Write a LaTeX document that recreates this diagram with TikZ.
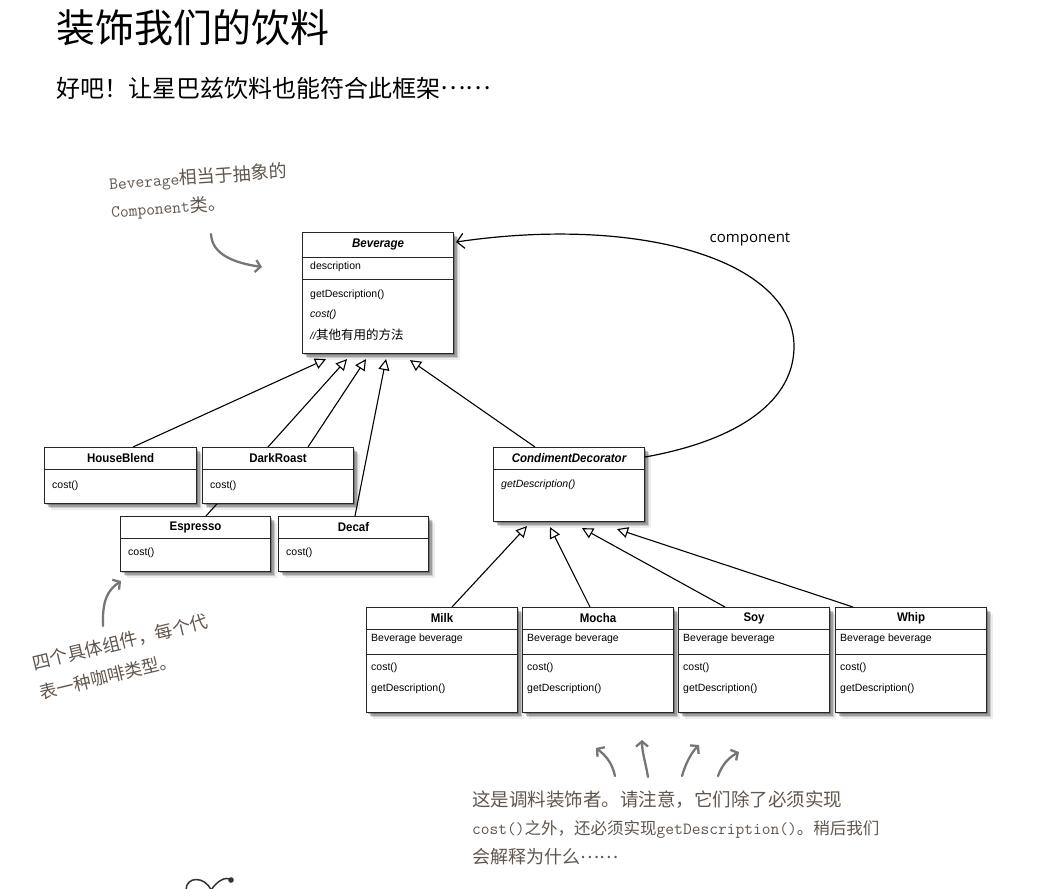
\documentclass[tikz,border=0pt]{standalone}
\usepackage{fontspec}
\setmainfont{Liberation Sans}
\newfontfamily\umlfont{Liberation Sans}
\newfontfamily\umltitle{Liberation Sans}[FakeStretch=0.92]
\newfontfamily\cjk{Noto Sans CJK SC}
\newfontfamily\labfont{Open Sans}
\usetikzlibrary{arrows.meta,shadows,backgrounds}
\definecolor{annc}{RGB}{96,86,78}
\definecolor{arrc}{RGB}{118,118,118}
\newcommand\mo[2]{{\ttfamily\fontsize{#1}{#1}\selectfont #2}}
\newcommand\ch[2]{{\cjk\fontsize{#1}{#1}\selectfont #2}}
\newcommand\cjkdots{\raisebox{0.3em}{……}}
\tikzset{
  umlbox/.style={draw=black!85, line width=1.1pt, fill=white, anchor=north west, inner sep=0pt},
  shadowed/.style={
    general shadow={fill=black,opacity=.07,shadow xshift=6pt,shadow yshift=-6pt},
    general shadow={fill=black,opacity=.14,shadow xshift=4.5pt,shadow yshift=-4.5pt},
    general shadow={fill=black,opacity=.22,shadow xshift=3pt,shadow yshift=-3pt},
    general shadow={fill=black,opacity=.25,shadow xshift=1.5pt,shadow yshift=-1.5pt}},
  div/.style={draw=black!85, line width=0.8pt},
  ttl/.style={font=\umltitle\fontsize{12.5}{14}\selectfont\bfseries, inner sep=0pt},
  ttli/.style={font=\umltitle\fontsize{12.5}{14}\selectfont\bfseries\itshape, inner sep=0pt},
  attr/.style={font=\umlfont\fontsize{10.5}{12}\selectfont, anchor=west, inner sep=0pt},
  attri/.style={font=\umlfont\fontsize{10.5}{12}\selectfont\itshape, anchor=west, inner sep=0pt},
  inh/.style={draw=black, line width=1.1pt, -{Triangle[open,length=11pt,width=11pt]}},
  assoc/.style={draw=black, line width=1.2pt, -{Straight Barb[length=7pt,width=15pt]}},
  anno/.style={text=annc, inner sep=0pt, align=left},
  annarrow/.style={draw=arrc, line width=2.3pt, line cap=round, -{Straight Barb[length=5pt,width=12pt]}}
}
\begin{document}
\begin{tikzpicture}[x=1pt,y=-1pt]
\begin{scope}[on background layer]
\fill[white] (0,0) rectangle (1043,888);
\end{scope}
\useasboundingbox (0,0) rectangle (1043,888);

% titles
\node[anchor=west, inner sep=0pt, font=\cjk\fontsize{39}{41}\selectfont] (title) at (56,28) {装饰我们的饮料};
\node[anchor=west, inner sep=0pt, font=\cjk\fontsize{24}{26}\selectfont] (sub) at (56,88) {好吧！让星巴兹饮料也能符合此框架\cjkdots};

% Beverage
\node[umlbox, shadowed, minimum width=151pt, minimum height=121pt] (bev) at (302,232) {};
\draw[div] ([yshift=-25pt]bev.north west) -- ([yshift=-25pt]bev.north east);
\draw[div] ([yshift=-47pt]bev.north west) -- ([yshift=-47pt]bev.north east);
\node[ttli] (bevt) at ([yshift=-12pt]bev.north) {Beverage};
\node[attr] (beva) at ([xshift=8pt,yshift=-35pt]bev.north west) {description};
\node[attr] (bevm1) at ([xshift=8pt,yshift=-63pt]bev.north west) {getDescription()};
\node[attri] (bevm2) at ([xshift=8pt,yshift=-83pt]bev.north west) {cost()};
\node[attri] (bevm3) at ([xshift=8pt,yshift=-103pt]bev.north west) {//{\cjk\fontsize{12.5}{13}\selectfont 其他有用的方法}};

% concrete components
\node[umlbox, shadowed, minimum width=152pt, minimum height=56pt] (hb) at (44,447) {};
\draw[div] ([yshift=-22pt]hb.north west) -- ([yshift=-22pt]hb.north east);
\node[ttl] (hbt) at ([yshift=-11pt]hb.north) {HouseBlend};
\node[attr] (hbm) at ([xshift=8pt,yshift=-39pt]hb.north west) {cost()};

\node[umlbox, shadowed, minimum width=151pt, minimum height=56pt] (dr) at (202,447) {};
\draw[div] ([yshift=-22pt]dr.north west) -- ([yshift=-22pt]dr.north east);
\node[ttl] (drt) at ([yshift=-11pt]dr.north) {DarkRoast};
\node[attr] (drm) at ([xshift=8pt,yshift=-39pt]dr.north west) {cost()};

\node[umlbox, shadowed, minimum width=150pt, minimum height=55pt] (es) at (120,516) {};
\draw[div] ([yshift=-22pt]es.north west) -- ([yshift=-22pt]es.north east);
\node[ttl] (est) at ([yshift=-11pt]es.north) {Espresso};
\node[attr] (esm) at ([xshift=8pt,yshift=-37pt]es.north west) {cost()};

\node[umlbox, shadowed, minimum width=150pt, minimum height=55pt] (de) at (278,516) {};
\draw[div] ([yshift=-22pt]de.north west) -- ([yshift=-22pt]de.north east);
\node[ttl] (det) at ([yshift=-11pt]de.north) {Decaf};
\node[attr] (dem) at ([xshift=8pt,yshift=-37pt]de.north west) {cost()};

% Condiment decorator
\node[umlbox, shadowed, minimum width=151pt, minimum height=74pt] (cd) at (493,447) {};
\draw[div] ([yshift=-22pt]cd.north west) -- ([yshift=-22pt]cd.north east);
\node[ttli] (cdt) at ([yshift=-11pt]cd.north) {CondimentDecorator};
\node[attri] (cdm) at ([xshift=8pt,yshift=-38pt]cd.north west) {getDescription()};

% decorators
\foreach \nm/\lbl/\xx in {mi/Milk/366, mo/Mocha/522, so/Soy/678, wh/Whip/835}{
  \node[umlbox, shadowed, minimum width=151pt, minimum height=105pt] (\nm) at (\xx,607) {};
  \draw[div] ([yshift=-22pt]\nm.north west) -- ([yshift=-22pt]\nm.north east);
  \draw[div] ([yshift=-47pt]\nm.north west) -- ([yshift=-47pt]\nm.north east);
  \node[ttl] (\nm t) at ([yshift=-11pt]\nm.north) {\lbl};
  \node[attr] (\nm a) at ([xshift=5pt,yshift=-32pt]\nm.north west) {Beverage beverage};
  \node[attr] (\nm c) at ([xshift=5pt,yshift=-61pt]\nm.north west) {cost()};
  \node[attr] (\nm g) at ([xshift=5pt,yshift=-82pt]\nm.north west) {getDescription()};
}

% inheritance connectors
\begin{scope}[on background layer]
\draw[inh] ([xshift=89pt]hb.north west) -- ([xshift=24pt,yshift=-5pt]bev.south west);
\draw[inh] ([xshift=86pt]es.north west) -- ([xshift=45pt,yshift=-5pt]bev.south west);
\draw[inh] ([xshift=106pt]dr.north west) -- ([xshift=64pt,yshift=-5pt]bev.south west);
\draw[inh] ([xshift=77pt]de.north west) -- ([xshift=84pt,yshift=-5pt]bev.south west);
\draw[inh] ([xshift=42pt]cd.north west) -- ([xshift=108pt,yshift=-6pt]bev.south west);
\draw[inh] ([xshift=86pt]mi.north west) -- ([xshift=34pt,yshift=-4pt]cd.south west);
\draw[inh] ([xshift=68pt]mo.north west) -- ([xshift=57pt,yshift=-5pt]cd.south west);
\draw[inh] ([xshift=47pt]so.north west) -- ([xshift=89pt,yshift=-6pt]cd.south west);
\draw[inh] ([xshift=18pt]wh.north west) -- ([xshift=124pt,yshift=-7pt]cd.south west);
\end{scope}

% component association
\draw[assoc] ([yshift=-10pt]cd.north east) .. controls (740,440) and (795,400) .. (794,345)
   .. controls (792,260) and (640,215) .. ([yshift=-10pt,xshift=2pt]bev.north east);
\node[font=\labfont\fontsize{15}{18}\selectfont, inner sep=0pt] (complab) at (750,239) {component};

% annotation 1
\node[anno, rotate=4, anchor=west, font=\fontsize{17}{28}\selectfont] (n1) at (110,198)
  {\mo{17}{Beverage}\ch{18}{相当于抽象的}\\\mo{17}{Component}\ch{18}{类。}};
\coordinate (a1s) at (211,234);
\coordinate (a1e) at (262,267);
\draw[annarrow] (a1s) .. controls (212,255) and (235,263) .. (a1e);

% annotation 2
\node[anno, rotate=13.6, anchor=west, font=\cjk\fontsize{18}{30}\selectfont] (n2) at (36,678)
  {四个具体组件，每个代\\{\fontsize{17.5}{30}\selectfont 表一种咖啡类型。}};
\coordinate (a2s) at (103,626);
\coordinate (a2e) at (121,581);
\draw[annarrow] (a2s) .. controls (102,600) and (108,590) .. (a2e);

% annotation 3
\node[anno, anchor=west] (n3a) at (472,800) {\ch{18.5}{这是调料装饰者。请注意，它们除了必须实现}};
\node[anno, anchor=west] (n3b) at (472,829) {\mo{17}{cost()}\ch{16.5}{之外，还必须实现}\mo{17}{getDescription()}\ch{16.5}{。稍后我们}};
\node[anno, anchor=west] (n3c) at (472,857) {\ch{18}{会解释为什么\cjkdots}};
\coordinate (b1s) at (615,776); \coordinate (b1e) at (596,748);
\coordinate (b2s) at (648,777); \coordinate (b2e) at (642,740);
\coordinate (b3s) at (682,776); \coordinate (b3e) at (699,745);
\coordinate (b4s) at (718,776); \coordinate (b4e) at (739,752);
\draw[annarrow] (b1s) .. controls (612,762) and (605,755) .. (b1e);
\draw[annarrow] (b2s) .. controls (645,760) and (642,752) .. (b2e);
\draw[annarrow] (b3s) .. controls (686,762) and (692,752) .. (b3e);
\draw[annarrow] (b4s) .. controls (722,765) and (728,758) .. (b4e);

% partial doodle at the bottom
\draw[black!80, line width=1.5pt] (186,890) .. controls (186,876) and (205,876) .. (211,890)
  .. controls (218,880) and (225,877) .. (231,879);
\fill[black!80] (231,880) circle (2.8pt);
\end{tikzpicture}
\end{document}
